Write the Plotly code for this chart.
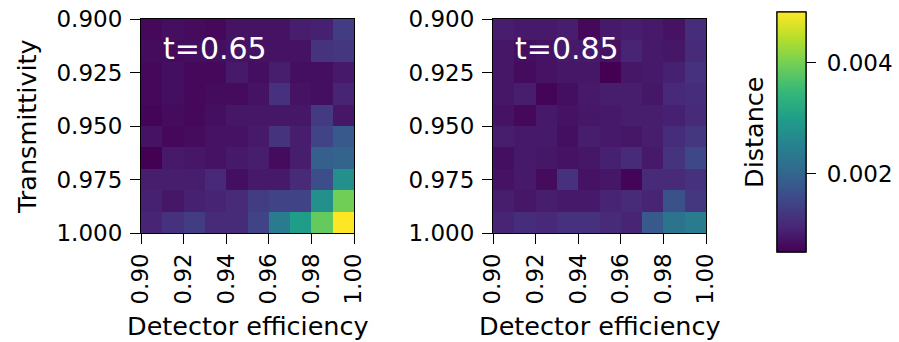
import plotly.graph_objects as go

W, H = 899, 342

# ---- data ----
det_eff = [0.905, 0.915, 0.925, 0.935, 0.945, 0.955, 0.965, 0.975, 0.985, 0.995]
transm = [0.905, 0.915, 0.925, 0.935, 0.945, 0.955, 0.965, 0.975, 0.985, 0.995]

dist_t065 = [
    [0.00067, 0.00075, 0.00071, 0.00067, 0.00080, 0.00080, 0.00080, 0.00093, 0.00097, 0.00136],
    [0.00071, 0.00071, 0.00075, 0.00075, 0.00080, 0.00080, 0.00080, 0.00080, 0.00123, 0.00127],
    [0.00067, 0.00075, 0.00067, 0.00067, 0.00088, 0.00075, 0.00093, 0.00075, 0.00075, 0.00088],
    [0.00067, 0.00075, 0.00067, 0.00071, 0.00071, 0.00080, 0.00119, 0.00080, 0.00075, 0.00101],
    [0.00062, 0.00071, 0.00067, 0.00075, 0.00084, 0.00084, 0.00084, 0.00084, 0.00132, 0.00084],
    [0.00080, 0.00067, 0.00071, 0.00080, 0.00080, 0.00088, 0.00123, 0.00093, 0.00145, 0.00180],
    [0.00058, 0.00088, 0.00084, 0.00080, 0.00088, 0.00093, 0.00071, 0.00093, 0.00188, 0.00197],
    [0.00093, 0.00093, 0.00093, 0.00106, 0.00075, 0.00088, 0.00088, 0.00110, 0.00162, 0.00275],
    [0.00097, 0.00084, 0.00097, 0.00101, 0.00110, 0.00136, 0.00145, 0.00145, 0.00275, 0.00397],
    [0.00101, 0.00119, 0.00136, 0.00110, 0.00110, 0.00145, 0.00240, 0.00297, 0.00388, 0.00492],
]

dist_t085 = [
    [0.00093, 0.00088, 0.00088, 0.00093, 0.00067, 0.00088, 0.00093, 0.00088, 0.00080, 0.00114],
    [0.00084, 0.00075, 0.00080, 0.00088, 0.00088, 0.00080, 0.00101, 0.00088, 0.00084, 0.00110],
    [0.00084, 0.00071, 0.00080, 0.00084, 0.00084, 0.00058, 0.00084, 0.00088, 0.00097, 0.00119],
    [0.00084, 0.00093, 0.00062, 0.00075, 0.00088, 0.00093, 0.00093, 0.00084, 0.00106, 0.00114],
    [0.00080, 0.00067, 0.00088, 0.00080, 0.00084, 0.00088, 0.00093, 0.00093, 0.00097, 0.00110],
    [0.00093, 0.00088, 0.00088, 0.00075, 0.00093, 0.00088, 0.00084, 0.00093, 0.00114, 0.00127],
    [0.00075, 0.00088, 0.00084, 0.00080, 0.00084, 0.00097, 0.00110, 0.00088, 0.00123, 0.00153],
    [0.00080, 0.00088, 0.00071, 0.00119, 0.00080, 0.00084, 0.00062, 0.00110, 0.00110, 0.00119],
    [0.00093, 0.00084, 0.00093, 0.00088, 0.00088, 0.00101, 0.00110, 0.00101, 0.00167, 0.00127],
    [0.00101, 0.00114, 0.00106, 0.00119, 0.00119, 0.00110, 0.00101, 0.00180, 0.00223, 0.00240],
]

panel_labels = ["t=0.65", "t=0.85"]
x_ticks = [0.90, 0.92, 0.94, 0.96, 0.98, 1.00]
y_ticks = [0.900, 0.925, 0.950, 0.975, 1.000]
cbar_ticks = [0.002, 0.004]
z_min, z_max = 0.00058, 0.00492

# ---- layout geometry (pixels) ----
ax_x = [(141, 354), (493, 706)]
ax_top, ax_bot = 19, 233
TICK_FS = 23
LABEL_FS = 25.5
FONT = "DejaVu Sans"

fig = go.Figure()
for i, z in enumerate([dist_t065, dist_t085]):
    fig.add_trace(go.Heatmap(
        x=det_eff, y=transm, z=z, coloraxis="coloraxis" if i == 0 else "coloraxis2",
        xaxis="x" if i == 0 else "x2", yaxis="y" if i == 0 else "y2",
        hoverinfo="skip",
    ))

def xa(i):
    return dict(
        domain=[ax_x[i][0] / W, ax_x[i][1] / W], range=[0.9, 1.0],
        tickvals=x_ticks, tickformat=".2f", tickangle=-90,
        ticks="outside", ticklen=10, tickwidth=1.2, tickcolor="black",
        showline=True, linecolor="black", linewidth=1.2, mirror=True,
        showgrid=False, zeroline=False, automargin=False,
        tickfont=dict(size=TICK_FS, color="black", family=FONT),
        anchor="y" if i == 0 else "y2",
    )

def ya(i):
    return dict(
        domain=[1 - ax_bot / H, 1 - ax_top / H], range=[1.0, 0.9],
        tickvals=y_ticks, tickformat=".3f",
        ticks="outside", ticklen=10, tickwidth=1.2, tickcolor="black",
        ticklabelstandoff=3,
        showline=True, linecolor="black", linewidth=1.2, mirror=True,
        showgrid=False, zeroline=False, automargin=False,
        tickfont=dict(size=TICK_FS, color="black", family=FONT),
        anchor="x" if i == 0 else "x2",
    )

annotations = []
for i, lab in enumerate(panel_labels):
    annotations.append(dict(
        text=lab, xref="paper", yref="paper",
        x=(ax_x[i][0] + 20) / W, y=1 - 48 / H, xanchor="left", yanchor="middle",
        showarrow=False, font=dict(size=30, color="white", family=FONT),
    ))
    annotations.append(dict(
        text="Detector efficiency", xref="paper", yref="paper",
        x=(ax_x[i][0] + ax_x[i][1]) / 2 / W, y=1 - 326 / H,
        xanchor="center", yanchor="middle", showarrow=False,
        font=dict(size=LABEL_FS, color="black", family=FONT),
    ))
annotations.append(dict(
    text="Transmittivity", xref="paper", yref="paper",
    x=27 / W, y=1 - 127 / H, xanchor="center", yanchor="middle",
    textangle=-90, showarrow=False,
    font=dict(size=LABEL_FS, color="black", family=FONT),
))
annotations.append(dict(
    text="Distance", xref="paper", yref="paper",
    x=754 / W, y=1 - 132 / H, xanchor="center", yanchor="middle",
    textangle=-90, showarrow=False,
    font=dict(size=LABEL_FS, color="black", family=FONT),
))

def cbar(show_labels):
    return dict(
        x=777 / W, xanchor="left", y=1 - 132 / H, yanchor="middle",
        thickness=29, thicknessmode="pixels", len=240 / H, lenmode="fraction",
        outlinewidth=1.2, outlinecolor="black", xpad=0, ypad=0,
        tickvals=cbar_ticks, tickformat=".3f", ticks="outside",
        ticklen=16 if show_labels else 10, tickwidth=1.2,
        tickcolor="rgba(0,0,0,0)" if show_labels else "black",
        showticklabels=show_labels,
        tickfont=dict(size=TICK_FS, color="black", family=FONT),
    )

fig.update_layout(
    width=W, height=H, margin=dict(l=0, r=0, t=0, b=0, autoexpand=False),
    paper_bgcolor="white", plot_bgcolor="white",
    font=dict(family=FONT, color="black"),
    xaxis=xa(0), yaxis=ya(0), xaxis2=xa(1), yaxis2=ya(1),
    coloraxis=dict(colorscale="Viridis", cmin=z_min, cmax=z_max, colorbar=cbar(False)),
    coloraxis2=dict(colorscale="Viridis", cmin=z_min, cmax=z_max, colorbar=cbar(True)),
    annotations=annotations,
    showlegend=False,
)

fig.write_html("out.html")
